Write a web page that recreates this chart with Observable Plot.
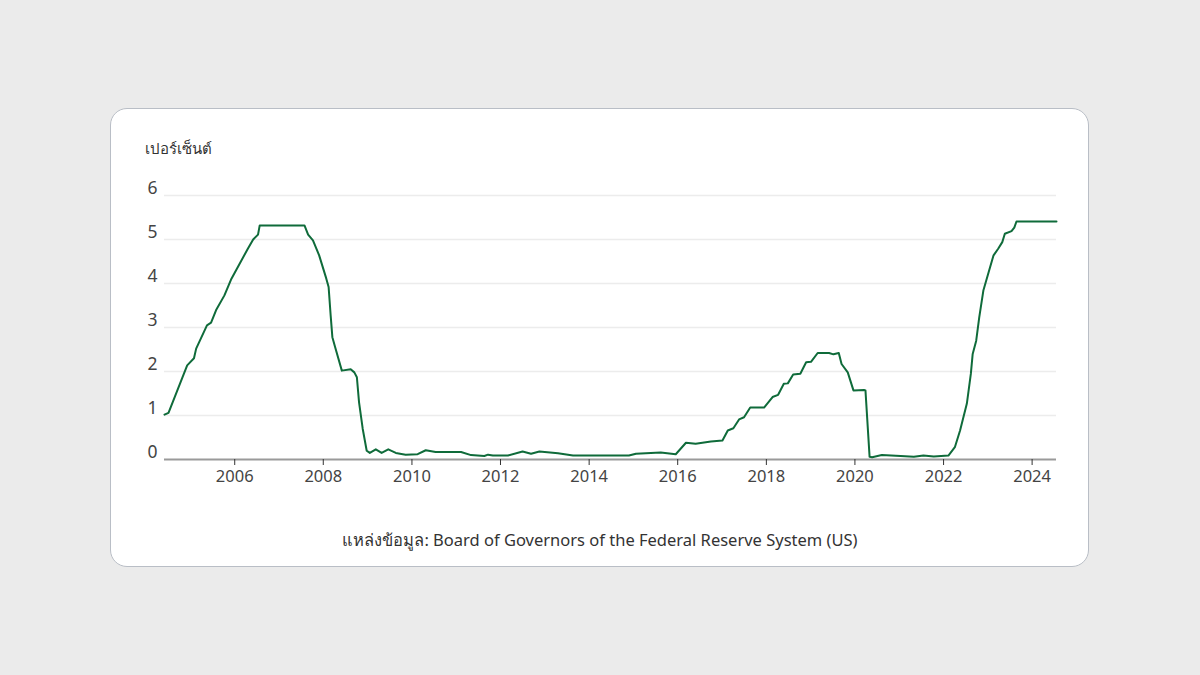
<!DOCTYPE html>
<html>
<head>
<meta charset="utf-8">
<script src="https://cdn.jsdelivr.net/npm/d3@7"></script>
<script src="https://cdn.jsdelivr.net/npm/@observablehq/plot@0.6"></script>
<style>
  html, body { margin: 0; padding: 0; }
  body { width: 1200px; height: 675px; background: #ebebeb; position: relative; overflow: hidden;
         font-family: "Noto Sans", "Open Sans", sans-serif; }
  #card { position: absolute; left: 110px; top: 108px; width: 977px; height: 457px;
          background: #fff; border: 1px solid #b9bec6; border-radius: 17px; }
  #ylabel { position: absolute; left: 145px; top: 137px; font-size: 15px; color: #333; }
  #chart { position: absolute; left: 120px; top: 175px; }
  #caption { position: absolute; left: 0; width: 1200px; top: 527px; text-align: center;
             font-size: 16.5px; color: #333; }
</style>
</head>
<body>
<div id="card"></div>
<div id="ylabel">เปอร์เซ็นต์</div>
<div id="chart"></div>
<div id="caption">แหล่งข้อมูล: Board of Governors of the Federal Reserve System (US)</div>
<script>
const dates = [
  "2004-06-01","2004-07-04","2004-12-05","2005-01-30","2005-02-17","2005-05-17","2005-06-20",
  "2005-08-03","2005-10-08","2005-12-05","2006-04-19","2006-06-02","2006-07-12","2006-07-26",
  "2007-07-30","2007-08-29","2007-10-08","2007-11-28","2008-01-26","2008-02-14","2008-03-02",
  "2008-03-16","2008-04-08","2008-06-02","2008-08-14","2008-09-13","2008-10-04","2008-10-22",
  "2008-11-21","2008-12-24","2009-01-19","2009-03-09","2009-04-26","2009-06-20","2009-08-21",
  "2009-11-10","2010-02-17","2010-04-25","2010-07-15","2011-02-10","2011-05-03","2011-08-21",
  "2011-09-20","2011-10-30","2012-03-02","2012-07-01","2012-09-09","2012-11-17","2013-04-19",
  "2013-08-21","2014-11-25","2015-01-22","2015-08-14","2015-12-16","2016-03-09","2016-05-28",
  "2016-10-01","2017-01-04","2017-02-17","2017-04-04","2017-05-21","2017-07-01","2017-08-21",
  "2017-12-13","2018-02-21","2018-04-08","2018-05-25","2018-06-27","2018-08-10","2018-10-08",
  "2018-11-25","2019-01-04","2019-02-28","2019-06-02","2019-07-08","2019-08-21","2019-09-13",
  "2019-11-03","2019-12-20","2020-03-16","2020-03-28","2020-05-01","2020-05-22","2020-08-10",
  "2021-01-12","2021-05-01","2021-07-19","2021-10-12","2022-02-10","2022-04-04","2022-05-17",
  "2022-07-12","2022-08-14","2022-08-29","2022-09-27","2022-10-22","2022-11-25","2023-01-08",
  "2023-02-17","2023-03-27","2023-04-30","2023-05-21","2023-07-15","2023-08-07","2023-08-25",
  "2024-07-20"
];
const rates = [
  1.02,1.06,2.14,2.30,2.52,3.05,3.11,
  3.41,3.73,4.11,4.79,5.00,5.11,5.32,
  5.32,5.11,4.98,4.64,4.11,3.92,3.27,
  2.78,2.55,2.02,2.05,1.98,1.87,1.30,
  0.70,0.20,0.15,0.23,0.15,0.23,0.15,
  0.11,0.12,0.21,0.17,0.17,0.10,0.08,
  0.11,0.09,0.09,0.18,0.13,0.18,0.14,
  0.09,0.09,0.13,0.16,0.12,0.38,0.36,
  0.41,0.43,0.66,0.71,0.91,0.96,1.18,
  1.18,1.42,1.47,1.72,1.73,1.93,1.95,
  2.21,2.22,2.42,2.42,2.39,2.42,2.17,
  1.98,1.57,1.58,1.57,0.06,0.05,0.10,
  0.08,0.06,0.09,0.07,0.09,0.28,0.66,
  1.27,1.95,2.40,2.70,3.23,3.84,4.26,
  4.64,4.79,4.94,5.13,5.19,5.27,5.41,
  5.41
];
const yTicks = [0, 1, 2, 3, 4, 5, 6];
const xTickYears = [2006, 2008, 2010, 2012, 2014, 2016, 2018, 2020, 2022, 2024];

const parse = d3.utcParse("%Y-%m-%d");
const data = dates.map((d, i) => ({date: parse(d), rate: rates[i]}));
const xTicks = xTickYears.map(y => new Date(Date.UTC(y, 0, 1)));

const chart = Plot.plot({
  width: 950,
  height: 314,
  marginLeft: 44,
  marginRight: 14,
  marginTop: 20,
  marginBottom: 30,
  style: {fontFamily: "'Noto Sans', 'Open Sans', sans-serif", background: "transparent", overflow: "visible"},
  x: {type: "utc", domain: d3.extent(data, d => d.date)},
  y: {domain: [0, 6]},
  marks: [
    Plot.gridY(yTicks.filter(t => t > 0), {stroke: "#ececec", strokeOpacity: 1, strokeWidth: 1.5}),
    Plot.axisY(yTicks, {tickSize: 0, tickPadding: 7, dy: -7, fontSize: 17.5, fill: "#444", label: null}),
    Plot.ruleY([0], {stroke: "#9a9a9a", strokeWidth: 2}),
    Plot.axisX(xTicks, {tickFormat: "%Y", tickSize: 6, tickPadding: 5, fontSize: 16.5, fill: "#444", stroke: "#333", label: null}),
    Plot.line(data, {x: "date", y: "rate", stroke: "#0f6b3a", strokeWidth: 2, strokeLinejoin: "round", curve: "linear"})
  ]
});
document.getElementById("chart").appendChild(chart);
</script>
</body>
</html>
